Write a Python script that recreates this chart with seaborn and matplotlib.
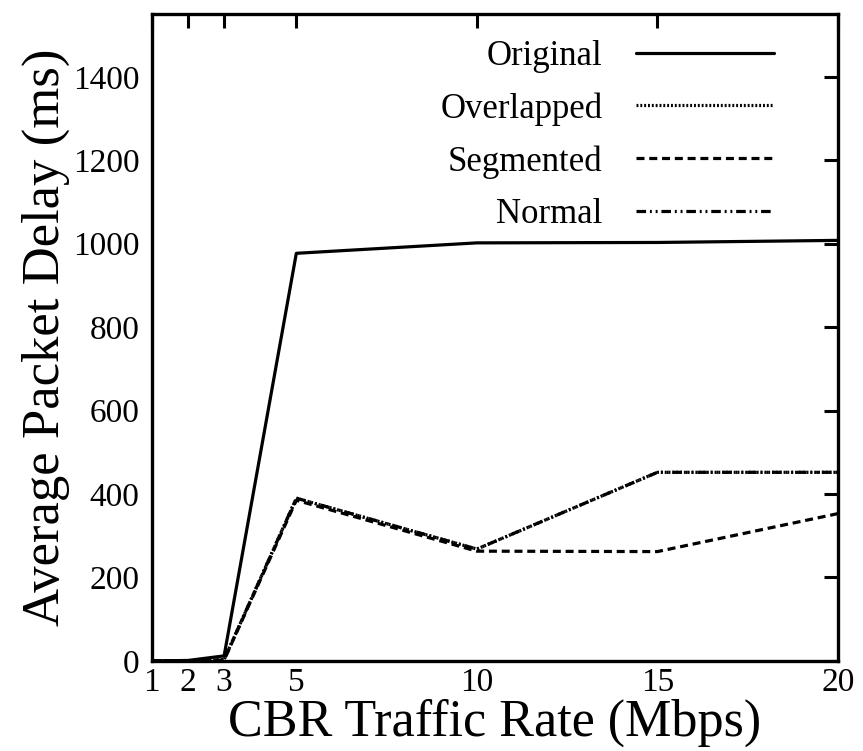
import matplotlib
matplotlib.use("Agg")
import matplotlib.pyplot as plt
import seaborn as sns
import pandas as pd

# CBR traffic rates (Mbps)
rates = [1, 2, 3, 5, 10, 15, 20]

# Average packet delay (ms) per scheme
original = [0, 1, 12, 977, 1002, 1003, 1008]
overlapped = [0, 0, 3, 390, 268, 452, 452]
segmented = [0, 0, 2, 385, 263, 262, 353]
normal = [0, 0, 3, 390, 268, 452, 452]

series = ["Original", "Overlapped", "Segmented", "Normal"]
values = [original, overlapped, segmented, normal]
styles = {
    "Original": "-",
    "Overlapped": (0, (0.6, 0.6)),
    "Segmented": (0, (2.5, 1.5)),
    "Normal": (0, (3, 1.2, 0.6, 1.2, 0.6, 1.2)),
}

xticks = [1, 2, 3, 5, 10, 15, 20]
yticks = [0, 200, 400, 600, 800, 1000, 1200, 1400]

df = pd.DataFrame(
    [(name, x, y) for name, vals in zip(series, values) for x, y in zip(rates, vals)],
    columns=["scheme", "rate", "delay"],
)

sns.set_theme(style="white")
plt.rcParams["font.family"] = ["Liberation Serif", "DejaVu Serif"]
plt.rcParams["text.color"] = "black"
plt.rcParams["axes.labelcolor"] = "black"
plt.rcParams["xtick.color"] = "black"
plt.rcParams["ytick.color"] = "black"

fig = plt.figure(figsize=(8.63, 7.51), dpi=100)
ax = fig.add_axes([0.176, 0.12, 0.795, 0.861])

for name in series:
    sub = df[df["scheme"] == name]
    sns.lineplot(
        data=sub, x="rate", y="delay", ax=ax, color="black",
        linewidth=2.3, linestyle=styles[name], label=name,
    )

ax.set_xlim(1, 20)
ax.set_ylim(0, 1550)
ax.set_xticks(xticks)
ax.set_xticklabels([str(t) for t in xticks])
ax.set_yticks(yticks)
ax.set_yticklabels([str(t) for t in yticks])

ax.tick_params(axis="both", which="major", direction="in", length=10, width=2.2,
               labelsize=24, top=True, right=True,
               colors="black", labelcolor="black")
ax.tick_params(axis="x", pad=5)
ax.tick_params(axis="y", pad=9)
for s in ax.spines.values():
    s.set_linewidth(2.4)
    s.set_color("black")

ax.set_xlabel("CBR Traffic Rate (Mbps)", fontsize=37.5, labelpad=0, color="black")
ax.set_ylabel("Average Packet Delay (ms)", fontsize=38, labelpad=2, color="black")

leg = ax.legend(loc="upper right", bbox_to_anchor=(0.953, 1.009), frameon=False,
                markerfirst=False, fontsize=25, handlelength=4.0,
                labelspacing=0.56, handletextpad=0.95)
for h in leg.get_lines():
    h.set_linewidth(2.3)
for t in leg.get_texts():
    t.set_color("black")

fig.savefig("out.png", dpi=100)
